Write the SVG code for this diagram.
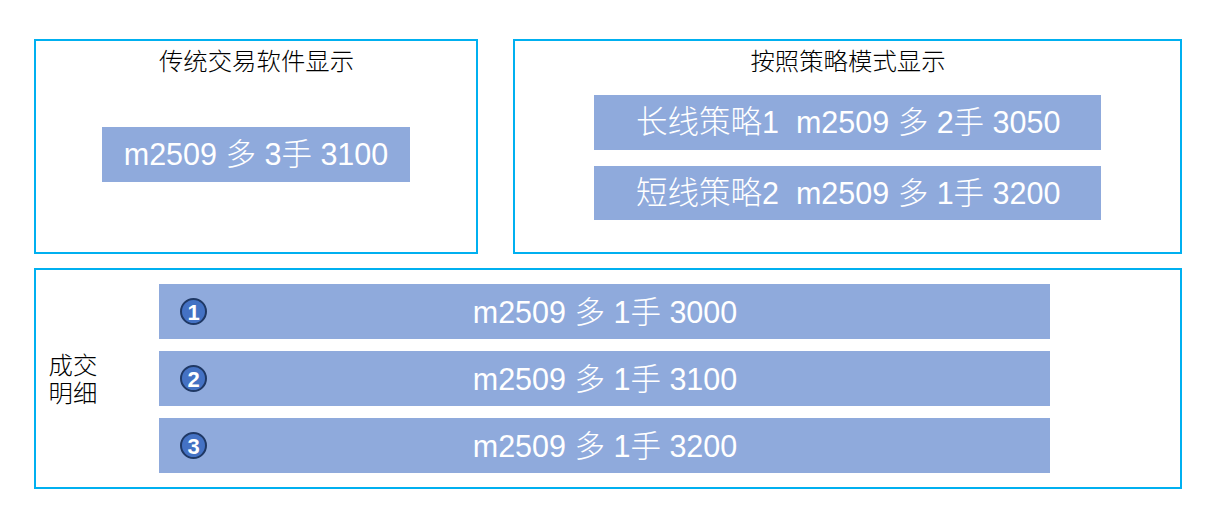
<svg xmlns="http://www.w3.org/2000/svg" width="1219" height="525" viewBox="0 0 1219 525">
<style>
text{font-family:"Liberation Sans","Noto Sans CJK SC",sans-serif}
.frame{fill:#fff;stroke:#00B0F0;stroke-width:2}
.bar{fill:#8FAADC}
.bt{fill:#fff;font-size:30.500px;text-anchor:middle;font-weight:300;white-space:pre}
.bs{fill:#fff;font-size:30.500px;font-weight:300;white-space:pre}
.cn{font-size:31.500px}
.t{fill:#000;font-size:24.400px;text-anchor:middle;font-weight:300}
.c{fill:#4472C4;stroke:#1F3864;stroke-width:2}
.n{fill:#fff;font-size:22px;font-weight:bold;text-anchor:middle}
</style>
<rect width="1219" height="525" fill="#fff"/>
<g id="traditional">
<rect class="frame" x="35" y="40" width="442" height="213"/>
<text class="t" x="256.500" y="70">传统交易软件显示</text>
<rect class="bar" x="102" y="127" width="308" height="55"/>
<text class="bt" x="256" y="165">m2509 多 3手 3100</text>
</g>
<g id="strategy">
<rect class="frame" x="514" y="40" width="667" height="213"/>
<text class="t" x="848" y="70">按照策略模式显示</text>
<rect class="bar" x="594" y="95" width="507" height="55"/>
<text class="bs" x="636" y="133"><tspan class="cn">长线策略</tspan>1  m2509 多 2手 3050</text>
<rect class="bar" x="594" y="166" width="507" height="54"/>
<text class="bs" x="636" y="204"><tspan class="cn">短线策略</tspan>2  m2509 多 1手 3200</text>
</g>
<g id="details">
<rect class="frame" x="35" y="269" width="1146" height="219"/>
<text class="t"><tspan x="73" y="374">成交</tspan><tspan x="73" y="402">明细</tspan></text>
</g>
<g id="fill1">
<rect class="bar" x="159" y="284" width="891" height="55"/>
<text class="bt" x="605" y="323">m2509 多 1手 3000</text>
<circle class="c" cx="193.500" cy="311.500" r="12.500"/>
<text class="n" x="193.500" y="319.500">1</text>
</g>
<g id="fill2">
<rect class="bar" x="159" y="351" width="891" height="55"/>
<text class="bt" x="605" y="390">m2509 多 1手 3100</text>
<circle class="c" cx="193.500" cy="378.500" r="12.500"/>
<text class="n" x="193.500" y="386.500">2</text>
</g>
<g id="fill3">
<rect class="bar" x="159" y="418" width="891" height="55"/>
<text class="bt" x="605" y="457">m2509 多 1手 3200</text>
<circle class="c" cx="193.500" cy="445.500" r="12.500"/>
<text class="n" x="193.500" y="453.500">3</text>
</g>
<g id="connectors"/>
</svg>
